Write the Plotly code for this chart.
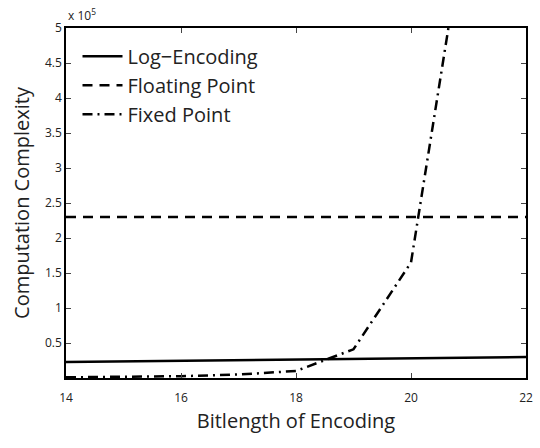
import plotly.graph_objects as go

bitlength = [14, 15, 16, 17, 18, 19, 20, 21, 22]
log_encoding = [23000, 23800, 24600, 25500, 26300, 27200, 28000, 29000, 30000]
floating_point = [230000, 230000, 230000, 230000, 230000, 230000, 230000, 230000, 230000]
fixed_bits = [14, 15, 16, 17, 18, 19, 20, 21]
fixed_point = [1000, 1600, 2600, 5000, 10000, 41000, 165000, 680000]

y_tickvals = [50000, 100000, 150000, 200000, 250000, 300000, 350000, 400000, 450000, 500000]
y_ticktext = ["0.5", "1", "1.5", "2", "2.5", "3", "3.5", "4", "4.5", "5"]
x_tickvals = [14, 16, 18, 20, 22]

FONT = "Open Sans"

fig = go.Figure()
fig.add_trace(go.Scatter(x=bitlength, y=log_encoding, mode="lines", name="Log\u2212Encoding",
                         line=dict(color="black", width=2.5)))
fig.add_trace(go.Scatter(x=bitlength, y=floating_point, mode="lines", name="Floating Point",
                         line=dict(color="black", width=2.5, dash="10px,7px")))
fig.add_trace(go.Scatter(x=fixed_bits, y=fixed_point, mode="lines", name="Fixed Point",
                         line=dict(color="black", width=2.5, dash="10px,5px,2px,5px")))

fig.update_layout(
    width=540, height=448,
    margin=dict(l=66, r=7, t=28, b=70),
    paper_bgcolor="white", plot_bgcolor="white",
    font=dict(family=FONT, color="#222"),
    showlegend=True,
    legend=dict(x=0.025, y=0.975, xanchor="left", yanchor="top", bgcolor="rgba(0,0,0,0)",
                font=dict(size=20, family=FONT, color="#222"), tracegroupgap=0,
                itemwidth=40),
    xaxis=dict(range=[14, 22], tickvals=x_tickvals, ticks="inside", ticklen=5,
               showline=True, linecolor="black", linewidth=1.5, mirror="ticks",
               showgrid=False, zeroline=False, ticklabelstandoff=8,
               tickfont=dict(size=12, family=FONT, color="#222"),
               title=dict(text="Bitlength of Encoding", font=dict(size=20, family=FONT, color="#222"),
                          standoff=9)),
    yaxis=dict(range=[0, 500000], tickvals=y_tickvals, ticktext=y_ticktext, ticks="inside", ticklen=5,
               showline=True, linecolor="black", linewidth=1.5, mirror="ticks",
               showgrid=False, zeroline=False,
               tickfont=dict(size=12, family=FONT, color="#222"),
               title=dict(text="Computation Complexity", font=dict(size=20, family=FONT, color="#222"),
                          standoff=10)),
    annotations=[dict(text="x 10<sup>5</sup>", xref="paper", yref="paper", x=0.0, y=1.0,
                      xanchor="left", yanchor="bottom", showarrow=False, yshift=2,
                      font=dict(size=12, family=FONT, color="#222"))],
)

fig.write_html("out.html")
